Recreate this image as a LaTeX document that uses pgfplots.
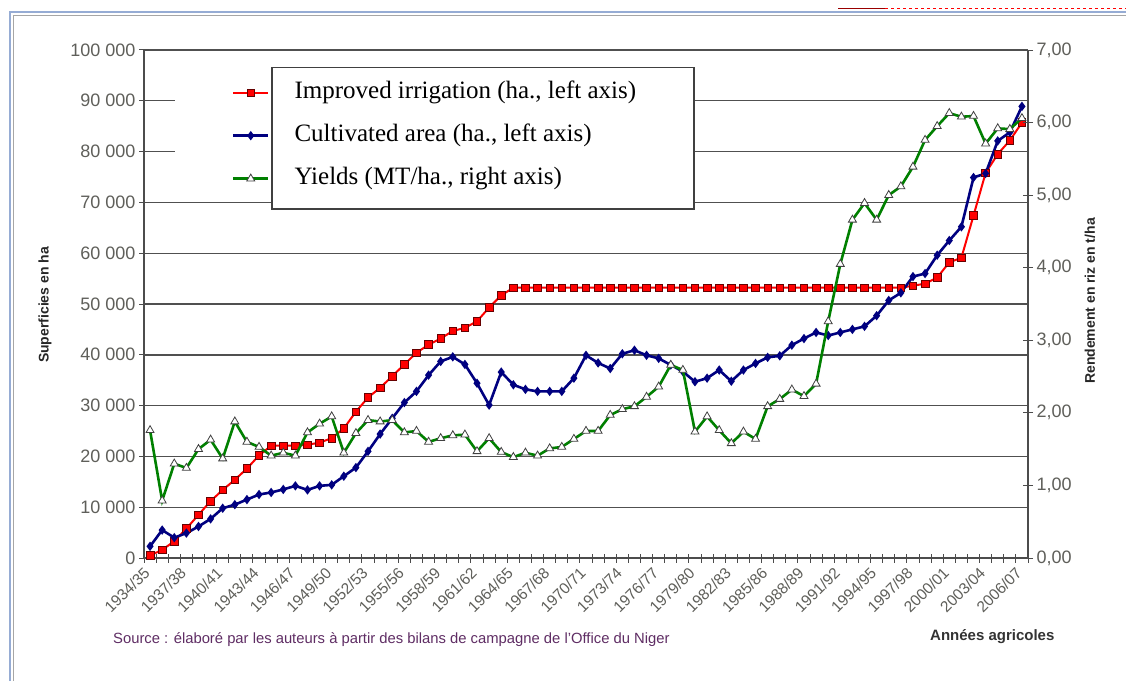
\documentclass[border=0pt]{standalone}
\usepackage{pgfplots}
\pgfplotsset{compat=1.18}
\usepackage{fontspec}
\setmainfont{Liberation Sans}
\newfontfamily\serifleg{Liberation Serif}

\definecolor{ired}{RGB}{255,0,0}
\definecolor{inavy}{RGB}{0,0,128}
\definecolor{igreen}{RGB}{0,128,0}
\definecolor{gridc}{RGB}{80,80,80}
\definecolor{tickc}{RGB}{95,95,90}
\definecolor{srcc}{RGB}{95,45,100}
\definecolor{framec}{RGB}{150,172,212}

\begin{document}
\begin{tikzpicture}
\path[use as bounding box] (0pt,0pt) rectangle (1126pt,681pt);
\fill[white] (0pt,0pt) rectangle (1126pt,681pt);
\draw[framec, line width=2pt] (10pt,0pt) -- (10pt,669pt) -- (1126pt,669pt);
\draw[black!35, line width=0.8pt] (13pt,0pt) -- (13pt,666pt) -- (1126pt,666pt);
\draw[red!60!black, line width=1pt] (838pt,672pt) -- (885pt,672pt);
\draw[red, dashed, line width=1pt] (885pt,672pt) -- (1126pt,672pt);

\begin{axis}[
  at={(144pt,123pt)}, anchor=south west,
  scale only axis, width=884pt, height=508pt,
  xmin=-0.5, xmax=72.5, ymin=0, ymax=100000,
  scaled y ticks=false,
  axis x line*=bottom, axis y line*=left,
  axis line style={draw=black!70, line width=1.2pt},
  ytick={0,10000,...,100000},
  yticklabels={0,10 000,20 000,30 000,40 000,50 000,60 000,70 000,80 000,90 000,100 000},
  ymajorgrids, grid style={gridc, line width=1.4pt},
  xtick={0,3,...,72},
  xticklabels={1934/35,1937/38,1940/41,1943/44,1946/47,1949/50,1952/53,1955/56,1958/59,1961/62,1964/65,1967/68,1970/71,1973/74,1976/77,1979/80,1982/83,1985/86,1988/89,1991/92,1994/95,1997/98,2000/01,2003/04,2006/07},
  minor xtick={-0.5,0.5,...,72.5},
  tick align=center,
  major tick length=10pt, minor tick length=9pt,
  tick style={black!70, line width=1pt},
  major x tick style={draw=none},
  yticklabel style={font=\fontsize{18}{20}\selectfont, text=tickc},
  xticklabel style={font=\fontsize{15.5}{17}\selectfont, text=tickc, rotate=45, anchor=east, xshift=-4pt, yshift=-3pt},
  legend style={draw=none, fill=none, at={(axis description cs:0.0995,0.9396)}, anchor=north west,
    inner sep=0pt, outer sep=0pt, row sep=19pt, column sep=25pt,
    font=\serifleg\fontsize{25}{28}\selectfont,
    nodes={inner sep=0pt, outer sep=0pt, text height=18pt, text depth=6pt}},
  legend cell align=left,
  legend image code/.code={\draw[mark repeat=2,mark phase=2,#1] plot coordinates {(0pt,0pt) (17.5pt,0pt) (35pt,0pt)};},
]
\addplot[ired, line width=2pt, mark=square*, mark size=3.8pt, mark options={fill=ired, draw=red!40!black, line width=0.7pt, solid}] coordinates {
(0,500) (1,1600) (2,3300) (3,5800) (4,8500) (5,11200) (6,13400) (7,15400) (8,17600) (9,20200)
(10,22100) (11,22100) (12,22100) (13,22300) (14,22700) (15,23600) (16,25500) (17,28800) (18,31600) (19,33500)
(20,35800) (21,38100) (22,40400) (23,42000) (24,43200) (25,44700) (26,45300) (27,46600) (28,49300) (29,51700)
(30,53200) (31,53200) (32,53200) (33,53200) (34,53200) (35,53200) (36,53200) (37,53200) (38,53200) (39,53200)
(40,53200) (41,53200) (42,53200) (43,53200) (44,53200) (45,53200) (46,53200) (47,53200) (48,53200) (49,53200)
(50,53200) (51,53200) (52,53200) (53,53200) (54,53200) (55,53200) (56,53200) (57,53200) (58,53200) (59,53200)
(60,53200) (61,53200) (62,53200) (63,53600) (64,54000) (65,55200) (66,58200) (67,59100) (68,67400) (69,75800)
(70,79500) (71,82200) (72,85700)
};
\addlegendentry{Improved irrigation (ha., left axis)}
\addplot[inavy, line width=2.6pt, mark=diamond*, mark size=2.6pt, mark options={fill=inavy, draw=inavy, solid}] coordinates {
(0,2300) (1,5500) (2,4000) (3,4900) (4,6200) (5,7700) (6,9800) (7,10500) (8,11500) (9,12500)
(10,12900) (11,13500) (12,14200) (13,13400) (14,14200) (15,14400) (16,16100) (17,17800) (18,21000) (19,24400)
(20,27500) (21,30600) (22,32800) (23,36000) (24,38700) (25,39600) (26,38100) (27,34400) (28,30100) (29,36600)
(30,34100) (31,33200) (32,32800) (33,32800) (34,32800) (35,35400) (36,39900) (37,38400) (38,37300) (39,40200)
(40,40900) (41,39900) (42,39300) (43,38000) (44,36700) (45,34700) (46,35400) (47,37000) (48,34800) (49,37000)
(50,38300) (51,39500) (52,39800) (53,41900) (54,43200) (55,44400) (56,43800) (57,44400) (58,45000) (59,45600)
(60,47700) (61,50700) (62,52200) (63,55400) (64,56000) (65,59600) (66,62500) (67,65200) (68,74900) (69,75700)
(70,82100) (71,83800) (72,88900)
};
\addlegendentry{Cultivated area (ha., left axis)}
\addlegendimage{igreen, line width=2.6pt, mark=triangle*, mark size=4.6pt, mark options={fill=white, draw=black!75, line width=0.8pt, solid}}
\addlegendentry{Yields (MT/ha., right axis)}
\fill[white] (axis description cs:0.0351,0.7244) rectangle (axis description cs:0.1448,0.9764);
\draw[black!75, line width=1.5pt, fill=white] (axis description cs:0.1448,0.687) rectangle (axis description cs:0.6222,0.9652);
\end{axis}

\begin{axis}[
  at={(144pt,123pt)}, anchor=south west,
  scale only axis, width=884pt, height=508pt,
  xmin=-0.5, xmax=72.5, ymin=0, ymax=7,
  axis y line*=right, axis x line=none,
  axis line style={draw=black!70, line width=1.2pt},
  ytick={0,1,...,7},
  yticklabels={{0,00},{1,00},{2,00},{3,00},{4,00},{5,00},{6,00},{7,00}},
  tick align=center, major tick length=10pt,
  tick style={black!70, line width=1pt},
  yticklabel style={font=\fontsize{18}{20}\selectfont, text=tickc},
]
\addplot[igreen, line width=2.6pt, mark=triangle*, mark size=4.6pt, mark options={fill=white, draw=black!75, line width=0.8pt, solid}] coordinates {
(0,1.76) (1,0.79) (2,1.30) (3,1.24) (4,1.50) (5,1.63) (6,1.37) (7,1.88) (8,1.60) (9,1.53)
(10,1.41) (11,1.45) (12,1.41) (13,1.73) (14,1.85) (15,1.95) (16,1.45) (17,1.72) (18,1.90) (19,1.88)
(20,1.90) (21,1.73) (22,1.75) (23,1.60) (24,1.65) (25,1.69) (26,1.70) (27,1.47) (28,1.65) (29,1.46)
(30,1.39) (31,1.45) (32,1.41) (33,1.51) (34,1.53) (35,1.64) (36,1.75) (37,1.75) (38,1.97) (39,2.05)
(40,2.09) (41,2.22) (42,2.36) (43,2.66) (44,2.59) (45,1.74) (46,1.95) (47,1.76) (48,1.58) (49,1.74)
(50,1.64) (51,2.09) (52,2.19) (53,2.32) (54,2.23) (55,2.40) (56,3.26) (57,4.05) (58,4.66) (59,4.89)
(60,4.66) (61,5.00) (62,5.12) (63,5.39) (64,5.76) (65,5.95) (66,6.13) (67,6.08) (68,6.09) (69,5.71)
(70,5.92) (71,5.91) (72,6.06)
};
\end{axis}

\node[rotate=90, font=\bfseries\fontsize{14}{16}\selectfont, text=black!85] at (45pt,376pt) {Superficies en ha};
\node[rotate=90, font=\bfseries\fontsize{14}{16}\selectfont, text=black!85] at (1090pt,380pt) {Rendement en riz en t/ha};
\node[anchor=base west, inner sep=0pt, font=\fontsize{14.8}{16}\selectfont, text=srcc] at (113pt,38pt) {Source : élaboré par les auteurs à partir des bilans de campagne de l'Office du Niger};
\node[anchor=base west, inner sep=0pt, font=\bfseries\fontsize{15}{17}\selectfont, text=black!80] at (930pt,41pt) {Années agricoles};
\end{tikzpicture}
\end{document}
